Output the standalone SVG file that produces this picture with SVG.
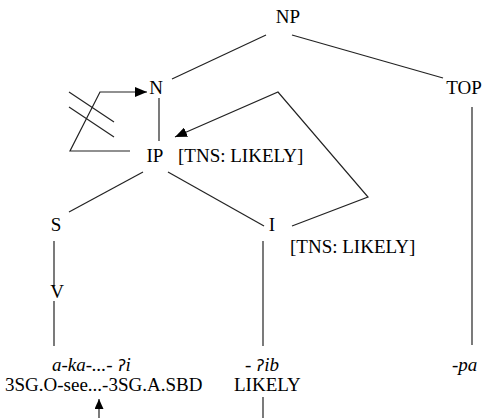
<svg xmlns="http://www.w3.org/2000/svg" width="488" height="418" viewBox="0 0 488 418">
  <style>
    .lbl { font-family: "Liberation Serif", "Times New Roman", "DejaVu Serif", serif; font-size: 19px; fill: #000; }
    .it { font-style: italic; }
    .gs { font-family: "DejaVu Sans", "Noto Sans", sans-serif; font-size: 16px; }
    .edge { fill: none; stroke: #222; stroke-width: 1.2; }
  </style>
  <defs>
    <marker id="head" viewBox="0 0 12 10" refX="12" refY="5" markerWidth="12" markerHeight="10" markerUnits="userSpaceOnUse" orient="auto">
      <path d="M0,0 L12,5 L0,10 Z" fill="#000"/>
    </marker>
    <marker id="headSmall" viewBox="0 0 10 9" refX="10" refY="4.5" markerWidth="10" markerHeight="9" markerUnits="userSpaceOnUse" orient="auto">
      <path d="M0,0 L10,4.5 L0,9 Z" fill="#000"/>
    </marker>
  </defs>

  <rect width="488" height="418" fill="#fff"/>

  <!-- tree branches and movement arrows -->
  <g id="connectors">
    <line class="edge" x1="266" y1="35" x2="172" y2="79"/>
    <line class="edge" x1="292" y1="35" x2="443" y2="78"/>
    <line class="edge" x1="159" y1="98" x2="159" y2="141"/>
    <line class="edge" x1="143" y1="172" x2="69" y2="212"/>
    <line class="edge" x1="168" y1="172" x2="264" y2="226"/>
    <line class="edge" x1="54" y1="241" x2="54" y2="287"/>
    <line class="edge" x1="54" y1="301" x2="54" y2="346"/>
    <line class="edge" x1="263" y1="241" x2="263" y2="346"/>
    <line class="edge" x1="472" y1="107" x2="472" y2="345"/>
    <line class="edge" x1="263" y1="397" x2="263" y2="418"/>
    <!-- blocked path into N -->
    <polyline class="edge" points="130,151 70,151 100,92 147,92" marker-end="url(#head)"/>
    <line class="edge" x1="69" y1="92" x2="114" y2="122"/>
    <line class="edge" x1="69" y1="107" x2="114" y2="137"/>
    <!-- feature percolation from I to IP -->
    <polyline class="edge" points="292,226 368,197 278,92 175,137" marker-end="url(#head)"/>
    <!-- pointer up to the ellipsis -->
    <line class="edge" x1="99" y1="418" x2="99" y2="399" marker-end="url(#headSmall)"/>
  </g>

  <g id="NP"><text class="lbl" x="288" y="23" text-anchor="middle">NP</text></g>
  <g id="N"><text class="lbl" x="156" y="94" text-anchor="middle">N</text></g>
  <g id="TOP"><text class="lbl" x="464" y="94" text-anchor="middle">TOP</text></g>
  <g id="IP">
    <text class="lbl" x="155" y="162" text-anchor="middle">IP</text>
    <text class="lbl" x="178" y="162">[TNS: LIKELY]</text>
  </g>
  <g id="S"><text class="lbl" x="56" y="231" text-anchor="middle">S</text></g>
  <g id="I">
    <text class="lbl" x="272" y="231" text-anchor="middle">I</text>
    <text class="lbl" x="290" y="253">[TNS: LIKELY]</text>
  </g>
  <g id="V"><text class="lbl" x="57" y="298" text-anchor="middle">V</text></g>
  <g id="verb">
    <text class="lbl it" x="52" y="371">a-ka-...- <tspan class="gs">ʔ</tspan>i</text>
    <text class="lbl" x="5" y="391">3SG.O-see...-3SG.A.SBD</text>
  </g>
  <g id="aux">
    <text class="lbl it" x="245" y="371">- <tspan class="gs">ʔ</tspan>ib</text>
    <text class="lbl" x="234" y="391">LIKELY</text>
  </g>
  <g id="topic"><text class="lbl it" x="452" y="371">-pa</text></g>
</svg>
